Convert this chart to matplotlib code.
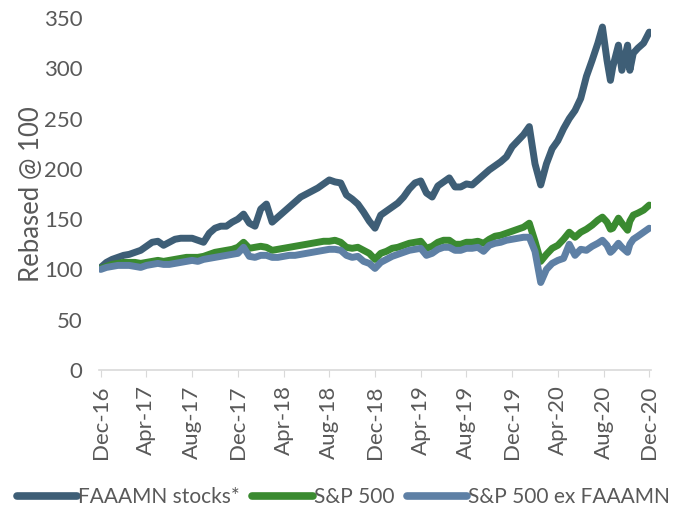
import numpy as np
import matplotlib
matplotlib.use("Agg")
import matplotlib.pyplot as plt

# months since Dec-16 (semi-monthly, denser in autumn 2020)
months = [i / 2 for i in range(87)] + [43.5, 43.9, 44.3, 44.6, 44.8, 45.3, 45.6,
                                        46.1, 46.3, 46.6, 47.0, 47.5, 48.0]

faaamn = [102, 107, 110, 112, 114, 115, 117, 119, 123, 127, 128, 124, 127, 130, 131,
          131, 131, 129, 127, 136, 141, 143, 143, 147, 150, 155, 146, 143, 160, 165,
          147, 152, 157, 162, 167, 172, 175, 178, 181, 185, 189, 187, 186, 174, 170,
          165, 157, 148, 141, 154, 158, 162, 166, 172, 180, 186, 188, 176, 172, 183,
          187, 191, 182, 182, 185, 184, 189, 194, 199, 203, 207, 212, 222, 228, 234,
          242, 205, 184, 205, 220, 228, 240, 250, 258, 270, 292, 308,
          325, 341, 308, 288, 301, 323, 298, 323, 298, 315, 320, 325, 336]

sp500 = [101, 103, 105, 106, 107, 107, 107, 106, 107, 108, 109, 108, 109, 110, 111,
         112, 112, 112, 113, 115, 117, 118, 119, 120, 122, 127, 121, 122, 123, 122,
         119, 120, 121, 122, 123, 124, 125, 126, 127, 128, 128, 129, 127, 122, 121,
         122, 119, 116, 110, 116, 118, 121, 122, 124, 126, 127, 128, 121, 123, 127,
         129, 129, 125, 125, 127, 127, 128, 126, 130, 133, 134, 136, 138, 140, 142,
         146, 128, 108, 115, 121, 124, 130, 137, 132, 137, 140, 144,
         149, 152, 147, 140, 141, 151, 146, 139, 148, 154, 156, 159, 164]

sp500_ex = [100, 102, 103, 104, 104, 104, 103, 102, 104, 105, 106, 105, 105, 106, 107,
            108, 109, 108, 110, 111, 112, 113, 114, 115, 116, 122, 113, 112, 114, 114,
            112, 112, 113, 114, 114, 115, 116, 117, 118, 119, 120, 120, 119, 114, 112,
            113, 108, 106, 101, 107, 110, 113, 115, 117, 119, 120, 121, 114, 116, 120,
            122, 122, 119, 119, 121, 121, 122, 118, 124, 126, 127, 129, 130, 131, 132,
            132, 118, 87, 100, 106, 109, 111, 125, 114, 120, 119, 123,
            126, 129, 124, 117, 119, 126, 122, 117, 125, 130, 133, 137, 141]

tick_pos = [0, 4, 8, 12, 16, 20, 24, 28, 32, 36, 40, 44, 48]
tick_labels = ['Dec-16', 'Apr-17', 'Aug-17', 'Dec-17', 'Apr-18', 'Aug-18', 'Dec-18',
               'Apr-19', 'Aug-19', 'Dec-19', 'Apr-20', 'Aug-20', 'Dec-20']

plt.rcParams.update({'font.family': 'Lato', 'font.size': 16})
txt = '#595959'

fig = plt.figure(figsize=(6.78, 5.12), dpi=100)
ax = fig.add_axes([99 / 678, 1 - 370 / 512, 552 / 678, 352 / 512])

ax.plot(months, faaamn, color='#3e5e76', lw=5, solid_joinstyle='round',
        solid_capstyle='round', label='FAAAMN stocks*')
ax.plot(months, sp500, color='#3a8a30', lw=5, solid_joinstyle='round',
        solid_capstyle='round', label='S&P 500')
ax.plot(months, sp500_ex, color='#5e80a5', lw=5, solid_joinstyle='round',
        solid_capstyle='round', label='S&P 500 ex FAAAMN')

ax.set_xlim(-0.15, 48.15)
ax.set_ylim(0, 350)
ax.set_yticks(range(0, 351, 50))
ax.set_xticks(tick_pos)
ax.set_xticklabels(tick_labels, rotation=90)
ax.set_ylabel('Rebased @ 100', color=txt, fontsize=18.5, labelpad=0)

for s in ['top', 'right', 'left']:
    ax.spines[s].set_visible(False)
ax.spines['bottom'].set_color('#d9d9d9')
ax.spines['bottom'].set_linewidth(1.2)
ax.tick_params(axis='y', length=0, colors=txt, pad=12)
ax.tick_params(axis='x', length=5, color='#d9d9d9', colors=txt, pad=6)
ax.tick_params(axis='x', labelcolor=txt)

leg = fig.legend(loc='center', bbox_to_anchor=(343.5 / 678, 1 - 497 / 512), ncol=3,
                 frameon=False, handlelength=2.9, handletextpad=0.05,
                 columnspacing=0.6, fontsize=15, labelcolor=txt)
for h in leg.get_lines():
    h.set_linewidth(5.5)

fig.savefig('out.png', dpi=100)
